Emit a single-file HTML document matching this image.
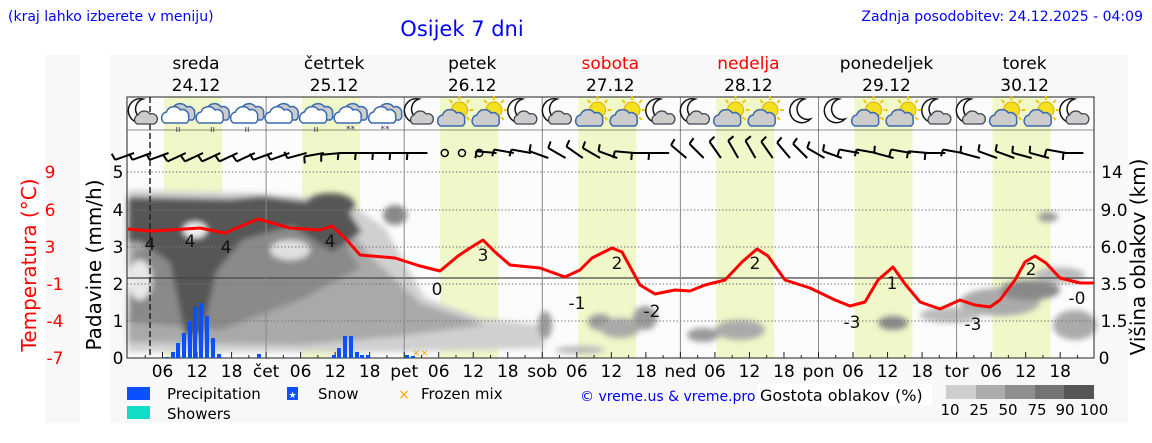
<!DOCTYPE html>
<html><head><meta charset="utf-8"><style>
body{margin:0;width:1152px;height:443px;background:#fff;overflow:hidden;font-family:"Liberation Sans","DejaVu Sans",sans-serif}
svg{display:block}
</style></head><body>
<svg id="s" width="1152" height="443" xmlns="http://www.w3.org/2000/svg" font-family="DejaVu Sans, Liberation Sans, sans-serif">
<defs>
<filter id="bl" x="-20%" y="-20%" width="140%" height="140%"><feGaussianBlur stdDeviation="3"/></filter>
</defs>
<rect x="110" y="55" width="1018" height="368" fill="#f8f8f8"/>
<rect x="45" y="55" width="35" height="368" fill="#f8f8f8"/>
<rect x="127" y="97" width="967" height="261" fill="#fcfcfc"/>
<g id="yel"></g>
<g filter="url(#bl)">
<polygon fill="#d0d0d0" points="128,190 250,193 345,200 385,228 425,298 480,318 540,325 545,348 400,352 128,352"/>
<polygon fill="#a9a9a9" points="128,205 330,203 372,258 420,303 485,325 400,336 300,345 128,342"/>
<polygon fill="#8a8a8a" points="135,250 330,218 360,268 300,300 220,330 128,322"/>
<polygon fill="#565656" points="128,197 230,199 262,196 345,206 362,232 332,252 292,226 242,240 216,272 202,335 185,335 170,262 140,242 128,242"/>
<ellipse cx="330" cy="205" rx="25" ry="12" fill="#565656"/>
<ellipse cx="395" cy="215" rx="12" ry="10" fill="#888"/>
<ellipse cx="195" cy="230" rx="12" ry="8" fill="#f0f0f0"/>
<ellipse cx="140" cy="280" rx="12" ry="20" fill="#e8e8e8"/>
<ellipse cx="290" cy="250" rx="20" ry="10" fill="#e0e0e0"/>
<ellipse cx="545" cy="325" rx="7" ry="14" fill="#999"/>
<ellipse cx="600" cy="322" rx="12" ry="8" fill="#999"/>
<ellipse cx="620" cy="328" rx="20" ry="10" fill="#aaa"/>
<ellipse cx="645" cy="318" rx="12" ry="12" fill="#999"/>
<ellipse cx="703" cy="335" rx="16" ry="7" fill="#999"/>
<ellipse cx="740" cy="330" rx="25" ry="10" fill="#aaa"/>
<ellipse cx="580" cy="350" rx="25" ry="4" fill="#bbb"/>
<ellipse cx="893" cy="323" rx="15" ry="7" fill="#888"/>
<ellipse cx="1048" cy="217" rx="10" ry="5" fill="#999"/>
<ellipse cx="1000" cy="302" rx="40" ry="14" fill="#aaa"/>
<ellipse cx="1030" cy="290" rx="30" ry="10" fill="#888"/>
<ellipse cx="1060" cy="275" rx="25" ry="8" fill="#bbb"/>
<ellipse cx="1075" cy="325" rx="22" ry="15" fill="#aaa"/>
<ellipse cx="950" cy="315" rx="30" ry="8" fill="#bbb"/>
</g>
<g id="grid"></g>
<line x1="127" y1="97" x2="1094" y2="97" stroke="#222"/>
<line x1="127" y1="130" x2="1094" y2="130" stroke="#222" stroke-width="0.6"/>
<rect x="127" y="97" width="967" height="261" fill="none" stroke="#222"/>
<line x1="150" y1="97" x2="150" y2="358" stroke="#222" stroke-width="1.5" stroke-dasharray="6,3"/>
<g id="bars"></g>
<text x="412" y="356" fill="orange" font-size="10">××</text>
<polyline fill="none" stroke="#f00" stroke-width="3" stroke-linejoin="round" points="128,229 150,231 170,230 200,228 225,233 258,219 290,228 320,230 332,226 345,238 360,255 395,258 420,266 440,271 458,256 470,248 483,240 495,252 510,265 540,268 565,277 580,270 592,258 612,248 622,252 640,285 655,294 675,290 690,291 705,285 725,280 742,262 757,249 768,256 785,280 810,288 835,300 850,306 865,302 878,280 893,267 905,284 920,302 940,309 960,300 975,305 990,307 1000,300 1015,280 1025,262 1035,256 1046,263 1060,278 1080,283 1094,283"/>
<g font-size="17" fill="#111" text-anchor="middle">
<text x="150" y="250">4</text><text x="190" y="247">4</text><text x="226" y="253">4</text><text x="330" y="247">4</text>
<text x="437" y="295">0</text><text x="483" y="261">3</text><text x="577" y="309">-1</text><text x="617" y="269">2</text>
<text x="652" y="317">-2</text><text x="755" y="269">2</text><text x="852" y="328">-3</text><text x="892" y="289">1</text>
<text x="973" y="330">-3</text><text x="1031" y="275">2</text><text x="1077" y="304">-0</text>
</g>
<g id="icons"></g>
<g id="wind" stroke="#000" stroke-width="2" fill="none"></g>
<g id="txt" font-size="17" fill="#000"></g>
<text x="8" y="21" fill="#00f" font-size="14">(kraj lahko izberete v meniju)</text>
<text x="462" y="36" fill="#00f" font-size="21" text-anchor="middle">Osijek 7 dni</text>
<text x="1143" y="21" fill="#00f" font-size="14" text-anchor="end">Zadnja posodobitev: 24.12.2025 - 04:09</text>
<g font-size="17" text-anchor="middle">
<text x="50" y="178" fill="#f00">9</text><text x="50" y="216" fill="#f00">6</text><text x="50" y="253" fill="#f00">3</text>
<text x="55" y="290" fill="#f00">-1</text><text x="55" y="327" fill="#f00">-4</text><text x="55" y="364" fill="#f00">-7</text>
<text x="118" y="178">5</text><text x="118" y="216">4</text><text x="118" y="253">3</text><text x="118" y="290">2</text><text x="118" y="327">1</text><text x="118" y="364">0</text>
<text x="1112" y="178">14</text><text x="1114" y="216">9.0</text><text x="1114" y="253">6.0</text><text x="1114" y="290">3.5</text><text x="1114" y="327">1.5</text><text x="1104" y="364">0</text>
</g>
<text transform="translate(36,265) rotate(-90)" text-anchor="middle" fill="#f00" font-size="20">Temperatura (°C)</text>
<text transform="translate(101,265) rotate(-90)" text-anchor="middle" fill="#000" font-size="20">Padavine (mm/h)</text>
<text transform="translate(1145,257) rotate(-90)" text-anchor="middle" fill="#000" font-size="20">Višina oblakov (km)</text>
<g font-size="15">
<rect x="127" y="387" width="23" height="13" fill="#0a50ff"/><text x="167" y="399">Precipitation</text>
<rect x="287" y="387" width="11" height="13" fill="#0a50ff"/><text x="292.5" y="398" fill="#fff" font-size="9" text-anchor="middle">★</text><text x="318" y="399">Snow</text>
<text x="404" y="399" fill="orange" font-size="14" text-anchor="middle">×</text><text x="421" y="399">Frozen mix</text>
<rect x="127" y="406" width="23" height="13" fill="#10dcc8"/><text x="167" y="419">Showers</text>
<text x="580" y="401" fill="#00f" font-size="14">© vreme.us &amp; vreme.pro</text>
<rect x="757" y="384" width="175" height="22" fill="#fff"/>
<text x="760" y="401" font-size="16">Gostota oblakov (%)</text>
<rect x="946" y="385" width="30" height="14" fill="#cfcfcf"/><rect x="976" y="385" width="29" height="14" fill="#adadad"/><rect x="1005" y="385" width="30" height="14" fill="#8f8f8f"/><rect x="1035" y="385" width="29" height="14" fill="#737373"/><rect x="1064" y="385" width="30" height="14" fill="#555"/>
<text x="950" y="415" font-size="15" text-anchor="middle">10</text><text x="979" y="415" text-anchor="middle">25</text><text x="1008" y="415" text-anchor="middle">50</text><text x="1037" y="415" text-anchor="middle">75</text><text x="1065" y="415" text-anchor="middle">90</text><text x="1094" y="415" text-anchor="middle">100</text>
</g>
</svg>
<script>
var NS="http://www.w3.org/2000/svg";
function el(p,t,a,tx){var e=document.createElementNS(NS,t);for(var k in a)e.setAttribute(k,a[k]);if(tx!==undefined)e.textContent=tx;document.getElementById(p).appendChild(e);return e;}
var X0=128,D=138.1,H=D/4;
for(var d=0;d<7;d++){el("yel","rect",{x:X0+d*D+36,y:97,width:58,height:261,fill:"#f0f7c8"});}
[172,210,247,284,321].forEach(function(y){el("grid","line",{x1:127,y1:y,x2:1094,y2:y,stroke:"#777","stroke-width":1,"stroke-dasharray":"1.5,2"});});
el("grid","line",{x1:127,y1:278,x2:1094,y2:278,stroke:"#444","stroke-width":1.2});
for(var d=1;d<7;d++){el("grid","line",{x1:X0+d*D,y1:97,x2:X0+d*D,y2:358,stroke:"#888","stroke-width":1});}
for(var i=1;i<56;i++){var x=X0+i*D/8;el("grid","line",{x1:x,y1:358,x2:x,y2:i%2?355:352,stroke:"#222"});}
var names=["čet","pet","sob","ned","pon","tor"];
for(var d=0;d<7;d++){for(var q=1;q<4;q++){el("txt","text",{x:X0+d*D+q*H,y:377,"text-anchor":"middle"},["06","12","18"][q-1]);}
 if(d>0)el("txt","text",{x:X0+d*D,y:377,"text-anchor":"middle"},names[d-1]);}
var dn=["sreda","četrtek","petek","sobota","nedelja","ponedeljek","torek"],dt=["24.12","25.12","26.12","27.12","28.12","29.12","30.12"];
for(var d=0;d<7;d++){var c=(d==3||d==4)?"#f00":"#000";el("txt","text",{x:X0+d*D+68,y:69,"text-anchor":"middle",fill:c},dn[d]);el("txt","text",{x:X0+d*D+68,y:91,"text-anchor":"middle",fill:"#000"},dt[d]);}
var bars=[[167,1],[173,6],[178,15],[184,25],[190,37],[195,51],[201,55],[207,42],[213,20],[219,4],[259,4],[334,3],[339,10],[345,22],[351,22],[357,6],[362,3],[368,3],[407,3],[413,2]];
bars.forEach(function(b){el("bars","rect",{x:b[0]-2,y:358-b[1],width:4,height:b[1],fill:"#0a50ff"});});
var types="MRRRCRSSMUUMMUUMMUUnnUUMMUUM";
function cloud(x,y,f){el("icons","path",{d:"M"+(x-13)+","+(y+8)+" a6,6 0 0 1 2,-11 a8,8 0 0 1 14,-2 a6,6 0 0 1 8,7 a5,5 0 0 1 -2,6 z",fill:f,stroke:"#3a6ab0","stroke-width":1.5});}
function moon(x,y){el("icons","path",{d:"M"+(x+4)+","+(y-14)+" a12,12 0 1 0 6,20 a9,9 0 1 1 -6,-20 z",fill:"#fff",stroke:"#111","stroke-width":1.5});}
function sun(x,y){el("icons","circle",{cx:x,cy:y,r:8,fill:"#f5e020",stroke:"#e0b000"});for(var a=0;a<8;a++){var r=a*Math.PI/4;el("icons","line",{x1:x+10*Math.cos(r),y1:y+10*Math.sin(r),x2:x+14*Math.cos(r),y2:y+14*Math.sin(r),stroke:"#f0c800","stroke-width":2});}}
for(var i=0;i<28;i++){var x=X0+17+i*34.5,y=113,t=types[i];
 if(t=="M"){moon(x-6,y);el("icons","path",{d:"M"+(x-8)+","+(y+11)+" a5,5 0 0 1 1,-9 a7,7 0 0 1 12,-1 a5,5 0 0 1 4,10 z",fill:"#ccc",stroke:"#445","stroke-width":1.3});}
 else if(t=="n"){moon(x,y);}
 else if(t=="U"){sun(x+4,y-3);cloud(x-2,y+5,"#ccc");}
 else {cloud(x+4,y-1,"#ccc");cloud(x-2,y+2,"#fff");if(t=="R")el("icons","text",{x:x-4,y:y+19,"font-size":9,fill:"#335"},"ıı");if(t=="S")el("icons","text",{x:x-6,y:y+19,"font-size":9,fill:"#335"},"**");}
}
var ang=[200,200,200,205,205,205,205,205, 200,200,195,190,185,180,180,180, 180,180,0,0,0,175,170,170, 160,150,145,150,160,175,180,180, 140,135,125,120,120,125,130,135, 150,160,170,170,165,170,175,180, 170,165,160,160,165,165,170,180];
for(var i=0;i<56;i++){var x=X0+i*D/8+6,a=ang[i];
 if(a==0){el("wind","circle",{cx:x,cy:153,r:3.5,"stroke-width":1.5});continue;}
 var ar=a*Math.PI/180,L=20,y=(a<170)?158:153;
 var x2=x+L*Math.cos(ar),y2=y-L*Math.sin(ar);
 el("wind","line",{x1:x,y1:y,x2:x2,y2:y2});
 var pa=(a>=170&&a<=190)?(a+85)*Math.PI/180:(a-80)*Math.PI/180;
 el("wind","line",{x1:x2,y1:y2,x2:x2+7*Math.cos(pa),y2:y2-7*Math.sin(pa)});
}
</script>
</body></html>
